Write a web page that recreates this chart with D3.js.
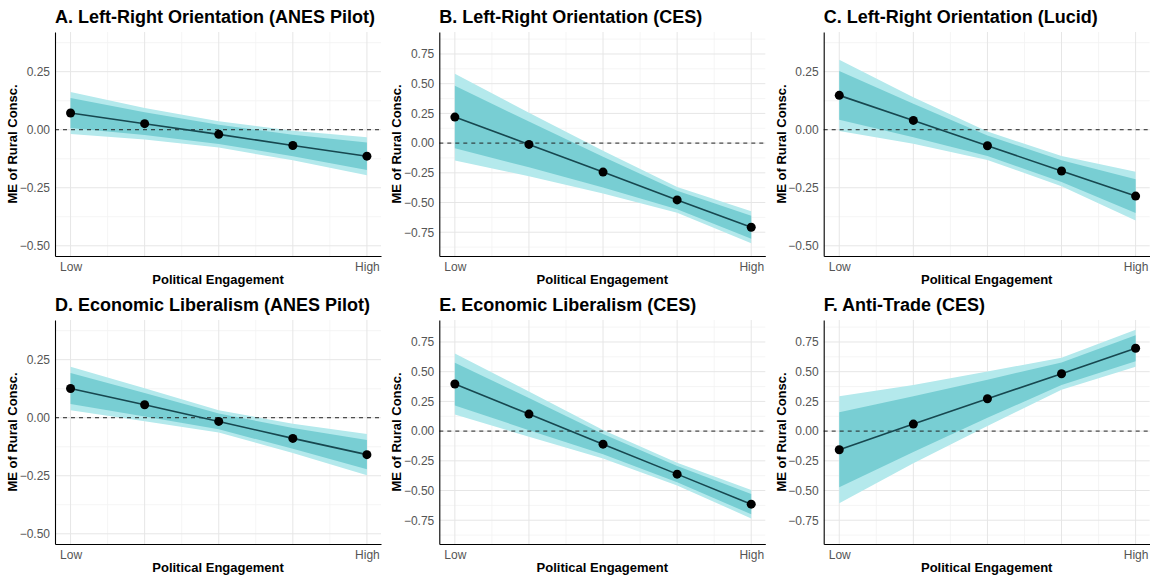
<!DOCTYPE html>
<html>
<head>
<meta charset="utf-8">
<script src="https://cdn.jsdelivr.net/npm/d3@7"></script>
<style>
  body { margin: 0; background: #fff; }
  svg { font-family: "Liberation Sans", Arial, sans-serif; }
</style>
</head>
<body>
<script>
// Engagement levels (x) and the labels shown on the axis
var levels = [1, 2, 3, 4, 5];
var xTickLabels = ["Low", "", "", "", "High"];

// Panel titles
var titles = [
  "A. Left-Right Orientation (ANES Pilot)",
  "B. Left-Right Orientation (CES)",
  "C. Left-Right Orientation (Lucid)",
  "D. Economic Liberalism (ANES Pilot)",
  "E. Economic Liberalism (CES)",
  "F. Anti-Trade (CES)"
];

// Point estimates of the marginal effect at each level
var estA = [0.072, 0.026, -0.020, -0.068, -0.114];
var estB = [0.219, -0.011, -0.244, -0.478, -0.708];
var estC = [0.148, 0.040, -0.069, -0.178, -0.286];
var estD = [0.126, 0.056, -0.016, -0.089, -0.159];
var estE = [0.396, 0.143, -0.110, -0.362, -0.615];
var estF = [-0.157, 0.059, 0.272, 0.483, 0.697];

// Half-widths of the wide (light) interval
var wideA = [0.090, 0.068, 0.057, 0.064, 0.082];
var wideB = [0.365, 0.267, 0.180, 0.108, 0.134];
var wideC = [0.153, 0.100, 0.061, 0.065, 0.105];
var wideD = [0.094, 0.071, 0.048, 0.063, 0.089];
var wideE = [0.257, 0.190, 0.120, 0.095, 0.120];
var wideF = [0.450, 0.330, 0.230, 0.135, 0.155];

// Half-widths of the narrow (dark) interval
var narrowA = [0.065, 0.049, 0.041, 0.046, 0.059];
var narrowB = [0.263, 0.192, 0.130, 0.078, 0.096];
var narrowC = [0.105, 0.072, 0.044, 0.047, 0.073];
var narrowD = [0.067, 0.051, 0.034, 0.045, 0.063];
var narrowE = [0.180, 0.135, 0.085, 0.068, 0.085];
var narrowF = [0.315, 0.235, 0.160, 0.095, 0.110];

// y ticks for the two axis ranges
var ticksSmall = [-0.5, -0.25, 0, 0.25];
var ticksLarge = [-0.75, -0.5, -0.25, 0, 0.25, 0.5, 0.75];
var domainSmall = [-0.544, 0.421];
var domainLarge = [-0.95, 0.935];

var panels = [
  { title: titles[0], est: estA, wide: wideA, narrow: narrowA, ticks: ticksSmall, domain: domainSmall },
  { title: titles[1], est: estB, wide: wideB, narrow: narrowB, ticks: ticksLarge, domain: domainLarge },
  { title: titles[2], est: estC, wide: wideC, narrow: narrowC, ticks: ticksSmall, domain: domainSmall },
  { title: titles[3], est: estD, wide: wideD, narrow: narrowD, ticks: ticksSmall, domain: domainSmall },
  { title: titles[4], est: estE, wide: wideE, narrow: narrowE, ticks: ticksLarge, domain: domainLarge },
  { title: titles[5], est: estF, wide: wideF, narrow: narrowF, ticks: ticksLarge, domain: domainLarge }
];

var svgWidth = 1150;
var svgHeight = 577;

// Panel plot areas
var colLeft = [55, 439.3, 823.7];
var rowTop = [32, 320];
var plotWidth = 326;
var plotHeight = 224;

var svg = d3.select("body")
  .append("svg")
  .attr("width", svgWidth)
  .attr("height", svgHeight);

panels.forEach(function(p, i) {
  var left = colLeft[i % 3];
  var top = rowTop[Math.floor(i / 3)];

  var g = svg.append("g")
    .attr("transform", `translate(${left}, ${top})`);

  var xScale = d3.scaleLinear()
    .domain([0.79, 5.19])
    .range([0, plotWidth]);

  var yScale = d3.scaleLinear()
    .domain(p.domain)
    .range([plotHeight, 0]);

  // minor grid
  var step = 0.25;
  var minorY = [];
  for (var v = p.ticks[0] - step / 2; v <= p.ticks[p.ticks.length - 1] + step; v += step) {
    if (v > p.domain[0] && v < p.domain[1]) minorY.push(v);
  }
  var minorX = [1.5, 2.5, 3.5, 4.5];

  g.selectAll(".minor-y").data(minorY).enter().append("line")
    .attr("x1", 0).attr("x2", plotWidth)
    .attr("y1", d => yScale(d)).attr("y2", d => yScale(d))
    .attr("stroke", "#f2f2f2").attr("stroke-width", 0.8);

  g.selectAll(".minor-x").data(minorX).enter().append("line")
    .attr("y1", 0).attr("y2", plotHeight)
    .attr("x1", d => xScale(d)).attr("x2", d => xScale(d))
    .attr("stroke", "#f2f2f2").attr("stroke-width", 0.8);

  // major grid
  g.selectAll(".major-y").data(p.ticks).enter().append("line")
    .attr("x1", 0).attr("x2", plotWidth)
    .attr("y1", d => yScale(d)).attr("y2", d => yScale(d))
    .attr("stroke", "#e6e6e6").attr("stroke-width", 1);

  g.selectAll(".major-x").data(levels).enter().append("line")
    .attr("y1", 0).attr("y2", plotHeight)
    .attr("x1", d => xScale(d)).attr("x2", d => xScale(d))
    .attr("stroke", "#e6e6e6").attr("stroke-width", 1);

  var rows = levels.map(function(x, j) {
    return { x: x, y: p.est[j], w: p.wide[j], n: p.narrow[j] };
  });

  var wideArea = d3.area()
    .x(d => xScale(d.x))
    .y0(d => yScale(d.y - d.w))
    .y1(d => yScale(d.y + d.w));

  var narrowArea = d3.area()
    .x(d => xScale(d.x))
    .y0(d => yScale(d.y - d.n))
    .y1(d => yScale(d.y + d.n));

  g.append("path").datum(rows)
    .attr("d", wideArea)
    .attr("fill", "#b4e9ec");

  g.append("path").datum(rows)
    .attr("d", narrowArea)
    .attr("fill", "#78ced3");

  // zero reference
  g.append("line")
    .attr("x1", 0).attr("x2", plotWidth)
    .attr("y1", yScale(0)).attr("y2", yScale(0))
    .attr("stroke", "#222")
    .attr("stroke-width", 1)
    .attr("stroke-dasharray", "4,4");

  var line = d3.line()
    .x(d => xScale(d.x))
    .y(d => yScale(d.y));

  g.append("path").datum(rows)
    .attr("d", line)
    .attr("fill", "none")
    .attr("stroke", "#17474f")
    .attr("stroke-width", 1.6);

  g.selectAll(".pt").data(rows).enter().append("circle")
    .attr("cx", d => xScale(d.x))
    .attr("cy", d => yScale(d.y))
    .attr("r", 4.5)
    .attr("fill", "#000");

  // axes
  var leftAxis = d3.axisLeft(yScale)
    .tickValues(p.ticks)
    .tickSize(0)
    .tickPadding(5)
    .tickFormat(d3.format(".2f"));

  var bottomAxis = d3.axisBottom(xScale)
    .tickValues(levels)
    .tickSize(0)
    .tickPadding(6)
    .tickFormat((d, j) => xTickLabels[j]);

  var yAxisG = g.append("g").call(leftAxis);
  var xAxisG = g.append("g")
    .attr("transform", `translate(0, ${plotHeight})`)
    .call(bottomAxis);

  [yAxisG, xAxisG].forEach(function(a) {
    a.select(".domain").attr("stroke", "#000").attr("stroke-width", 1.1);
    a.selectAll("text")
      .attr("fill", "#555")
      .style("font-size", "12px")
      .style("font-family", "'Liberation Sans', Arial, sans-serif");
  });

  // titles
  g.append("text")
    .attr("x", 0)
    .attr("y", -9)
    .style("font-size", "18px")
    .style("font-weight", "bold")
    .attr("fill", "#000")
    .text(p.title);

  g.append("text")
    .attr("transform", `translate(${plotWidth / 2}, ${plotHeight + 28})`)
    .attr("text-anchor", "middle")
    .style("font-size", "13px")
    .style("font-weight", "bold")
    .text("Political Engagement");

  g.append("text")
    .attr("transform", `translate(-38, ${plotHeight / 2}) rotate(-90)`)
    .attr("text-anchor", "middle")
    .style("font-size", "13px")
    .style("font-weight", "bold")
    .text("ME of Rural Consc.");
});
</script>
</body>
</html>
